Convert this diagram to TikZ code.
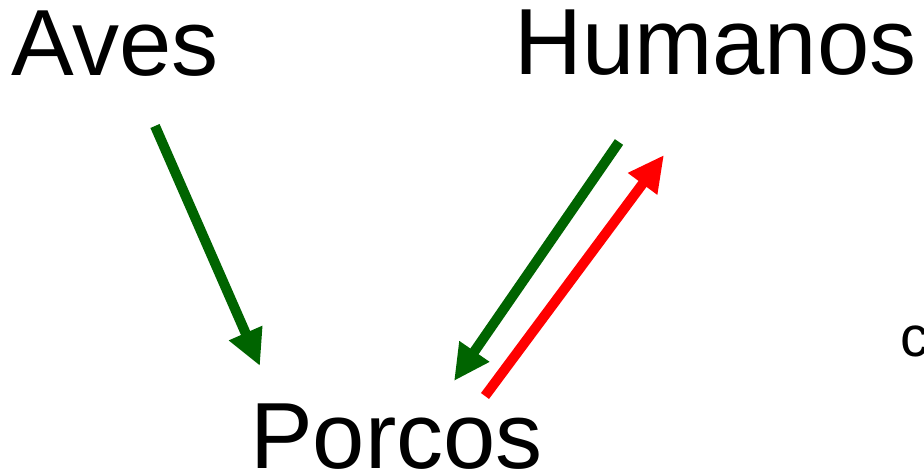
\documentclass[tikz,border=0pt]{standalone}
\usepackage{fontspec}
\setmainfont{Liberation Sans}
\usetikzlibrary{arrows.meta}
\definecolor{arrgreen}{HTML}{006400}
\definecolor{arrred}{HTML}{FF0000}
\tikzset{
  bigtext/.style={anchor=base west, inner sep=0pt, font=\fontsize{94}{94}\selectfont},
  smalltext/.style={anchor=base west, inner sep=0pt, font=\fontsize{57}{57}\selectfont},
  fatarrow/.style={line width=10pt, -{Triangle[length=36pt,width=34pt]}},
}
\begin{document}
\begin{tikzpicture}[x=1pt,y=-1pt]
\useasboundingbox (0,0) rectangle (924,473);
\node[bigtext] (aves) at (11,76) {Aves};
\node[bigtext] (humanos) at (514,75) {Humanos};
\node[bigtext] (porcos) at (250,468) {Porcos};
\node[smalltext] (cfrag) at (900,356) {c};
\coordinate (a1) at (155,126);
\coordinate (a2) at (260,366);
\coordinate (h1) at (619,142);
\coordinate (h2) at (454,381);
\coordinate (r1) at (485,396);
\coordinate (r2) at (664,155);
\draw[fatarrow, arrgreen] (a1) -- (a2);
\draw[fatarrow, arrgreen] (h1) -- (h2);
\draw[fatarrow, arrred] (r1) -- (r2);
\end{tikzpicture}
\end{document}
